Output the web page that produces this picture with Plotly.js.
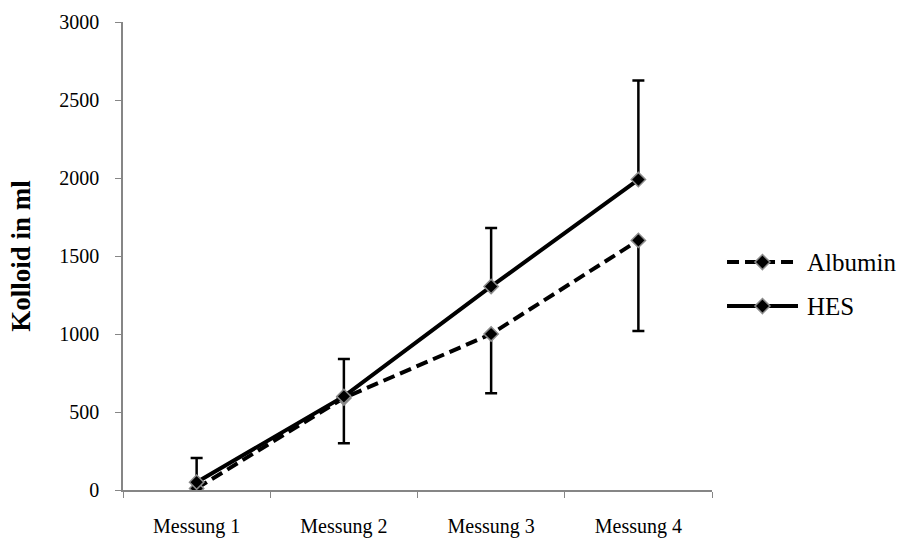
<!DOCTYPE html>
<html><head><meta charset="utf-8">
<script src="https://cdn.plot.ly/plotly-3.0.1.min.js"></script>
<style>body{margin:0;background:#fff}</style>
</head><body><div id="chart" style="width:899px;height:539px"></div>
<script>
var categories = ["Messung 1", "Messung 2", "Messung 3", "Messung 4"];
var seriesNames = ["Albumin", "HES"];
var albumin = [10, 590, 1000, 1600];
var albuminErrMinus = [10, 290, 380, 580];
var hes = [50, 600, 1305, 1990];
var hesErrPlus = [155, 240, 375, 635];
var zeros = [0, 0, 0, 0];

var FONT = "Liberation Serif, Times New Roman, serif";
var markerStyle = {symbol: "diamond", size: 11, color: "#000", line: {color: "#8c8c8c", width: 1.5}};
var traces = [
  {x: categories, y: albumin, name: seriesNames[0], type: "scatter", mode: "lines+markers",
   line: {color: "#000", width: 4, dash: "12px,6px"}, marker: markerStyle, showlegend: false,
   error_y: {type: "data", symmetric: false, array: zeros, arrayminus: albuminErrMinus, color: "#000", thickness: 2.5, width: 6}},
  {x: categories, y: hes, name: seriesNames[1], type: "scatter", mode: "lines+markers",
   line: {color: "#000", width: 4}, marker: markerStyle, showlegend: false,
   error_y: {type: "data", symmetric: false, array: hesErrPlus, arrayminus: zeros, color: "#000", thickness: 2.5, width: 6}}
];

// custom legend (layout decoration, paper coordinates)
var legY = [0.487, 0.393];
var legDash = ["12px,6px", "solid"];
var shapes = [], annotations = [];
for (var i = 0; i < 2; i++) {
  shapes.push({type: "line", xref: "paper", yref: "paper", x0: 1.0255, x1: 1.146, y0: legY[i], y1: legY[i],
               line: {color: "#000", width: 4, dash: legDash[i]}});
  shapes.push({type: "path", xref: "paper", yref: "paper", xsizemode: "pixel", ysizemode: "pixel",
               xanchor: 1.0857, yanchor: legY[i], path: "M0,-7.5 L7.5,0 L0,7.5 L-7.5,0 Z",
               fillcolor: "#000", line: {color: "#8c8c8c", width: 1.5}});
  annotations.push({xref: "paper", yref: "paper", x: 1.158, y: legY[i], xanchor: "left", yanchor: "middle",
                    text: seriesNames[i], showarrow: false, font: {family: FONT, size: 25, color: "#000"}});
}

var layout = {
  width: 899, height: 539,
  margin: {l: 123, r: 187, t: 22, b: 49},
  paper_bgcolor: "#fff", plot_bgcolor: "#fff",
  font: {family: FONT, color: "#000", size: 20},
  showlegend: false,
  shapes: shapes, annotations: annotations,
  xaxis: {type: "category", showline: true, linecolor: "#868686", linewidth: 1.5, ticks: "outside",
          tickson: "boundaries", ticklen: 6, tickcolor: "#868686", showgrid: false, zeroline: false,
          tickfont: {size: 20}, ticklabelstandoff: 17, range: [-0.5, 3.5]},
  yaxis: {range: [0, 3000], dtick: 500, showline: true, linecolor: "#868686", linewidth: 1.5,
          ticks: "outside", ticklen: 6, tickcolor: "#868686", showgrid: false, zeroline: false,
          tickfont: {size: 20}, ticklabelstandoff: 12,
          title: {text: "<b>Kolloid in ml</b>", font: {size: 27}, standoff: 21}}
};
Plotly.newPlot("chart", traces, layout, {displayModeBar: false});
</script></body></html>
